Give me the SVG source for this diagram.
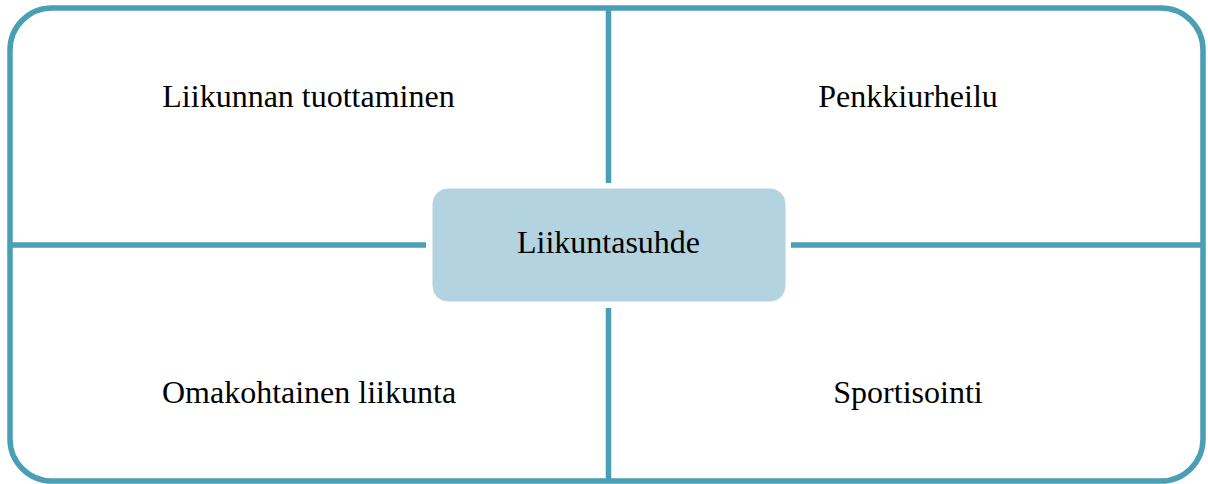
<svg xmlns="http://www.w3.org/2000/svg" width="1208" height="484" viewBox="0 0 1208 484">
<style>
.ln{stroke:#4A9FB5;stroke-width:5.5;fill:none}
.t{font-family:"Liberation Serif","Times New Roman",serif;font-size:32px;fill:#000;text-anchor:middle}
</style>
<rect x="0" y="0" width="1208" height="484" fill="#fff"/>
<g id="frame">
<rect class="ln" x="10" y="8" width="1193" height="473" rx="42" ry="42"/>
</g>
<g id="connectors">
<line class="ln" x1="608.5" y1="8" x2="608.5" y2="183"/>
<line class="ln" x1="608.5" y1="308" x2="608.5" y2="481"/>
<line class="ln" x1="10" y1="245" x2="426" y2="245"/>
<line class="ln" x1="791" y1="245" x2="1203" y2="245"/>
</g>
<g id="center">
<rect x="432" y="188" width="354" height="114" rx="16" ry="16" fill="#B2D3DF" stroke="#fff" stroke-width="1"/>
<text class="t" x="608.5" y="253">Liikuntasuhde</text>
</g>
<g id="q1"><text class="t" x="308.5" y="107">Liikunnan tuottaminen</text></g>
<g id="q2"><text class="t" x="908" y="107">Penkkiurheilu</text></g>
<g id="q3"><text class="t" x="309" y="403">Omakohtainen liikunta</text></g>
<g id="q4"><text class="t" x="908" y="403">Sportisointi</text></g>
</svg>
